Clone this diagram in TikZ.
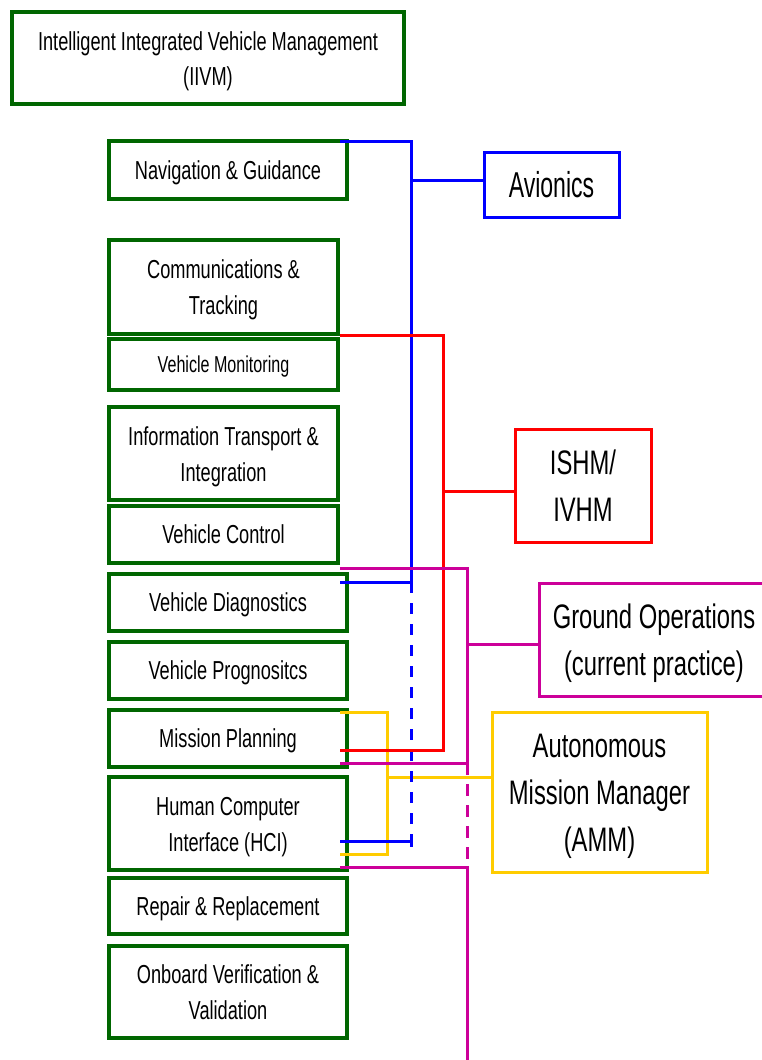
\documentclass[tikz,border=0pt]{standalone}
\usepackage{fontspec}
\setmainfont{Liberation Sans}[FakeStretch=0.70]
\newfontfamily\avfont{Liberation Sans}[FakeStretch=0.64]
\definecolor{gr}{RGB}{0,102,0}
\definecolor{bl}{RGB}{0,0,255}
\definecolor{rd}{RGB}{255,0,0}
\definecolor{mg}{RGB}{204,0,153}
\definecolor{ye}{RGB}{255,204,0}
\newcommand\mybox[7]{\node[#1, minimum width={#4-#2}, minimum height={#5-#3}] (#6) at ({(#2+#4)/2},{(#3+#5)/2}) {#7};}
\begin{document}
\begin{tikzpicture}[x=1pt,y=-1pt,
  gbox/.style={draw=gr, line width=4pt, inner sep=0pt, align=center, font=\fontsize{26}{36}\selectfont},
  gone/.style={gbox, text height=18.6pt, text depth=-3pt},
  gtwo/.style={gbox, text height=55pt, text depth=-3pt},
  sbox/.style={gbox, font=\fontsize{23}{30}\selectfont, text height=16.5pt, text depth=-8pt},
  rbox/.style={line width=3pt, inner sep=0pt, align=center, font=\fontsize{34}{47}\selectfont},
  conn/.style={line width=3pt},
  dsh/.style={dash pattern=on 11pt off 10pt}]
\useasboundingbox (0,0) rectangle (762,1060);
\clip (0,0) rectangle (762,1060);
\fill[white] (0,0) rectangle (762,1060);
% left column
\mybox{gbox,font=\fontsize{26}{35}\selectfont,text height=54pt,text depth=-9pt}{12}{12}{404}{104}{iivm}{Intelligent Integrated Vehicle Management\\(IIVM)}
\mybox{gone}{109}{141}{347}{199}{nav}{Navigation \& Guidance}
\mybox{gtwo}{109}{240}{338}{334}{comm}{Communications \&\\Tracking}
\mybox{sbox}{109}{339}{338}{390}{vm}{Vehicle Monitoring}
\mybox{gtwo}{109}{407}{338}{500}{iti}{Information Transport \&\\Integration}
\mybox{gone}{109}{506}{338}{563}{vc}{Vehicle Control}
\mybox{gone}{109}{574}{347}{631}{vd}{Vehicle Diagnostics}
\mybox{gone}{109}{642}{347}{699}{vp}{Vehicle Prognositcs}
\mybox{gone}{109}{710}{347}{767}{mp}{Mission Planning}
\mybox{gtwo}{109}{777}{347}{870}{hci}{Human Computer\\Interface (HCI)}
\mybox{gone}{109}{878}{347}{934}{rr}{Repair \& Replacement}
\mybox{gtwo,text depth=-6pt}{109}{946}{347}{1038}{ovv}{Onboard Verification \&\\Validation}
% right column
\mybox{rbox,draw=bl,font=\avfont\fontsize{36}{47}\selectfont,text height=25.8pt,text depth=-1pt}{484}{152}{619}{217}{avio}{Avionics}
\mybox{rbox,draw=rd,text height=71.3pt,text depth=-10pt}{515}{429}{651}{542}{ishm}{ISHM/\\IVHM}
\mybox{rbox,draw=mg,text height=71.3pt,text depth=0pt}{539}{583}{769}{696}{gops}{Ground Operations\\(current practice)}
\mybox{rbox,draw=ye,text height=118.3pt,text depth=-8pt}{492}{712}{707}{872}{amm}{Autonomous\\Mission Manager\\(AMM)}
% connection points
\coordinate (navP) at (340,141);
\coordinate (vdP) at (340,582);
\coordinate (hciB) at (340,841);
\coordinate (commP) at (340,335);
\coordinate (mpR) at (340,750);
\coordinate (vcP) at (340,568);
\coordinate (mpM) at (340,763);
\coordinate (hciM) at (340,867);
\coordinate (mpY) at (340,712);
\coordinate (hciY) at (340,854);
\coordinate (bottomM) at (467,1060);
% yellow (AMM)
\draw[conn,ye] (mpY) -- (387,712) -- (387,854) -- (hciY);
\draw[conn,ye] (387,777) -- (amm.west |- 387,777);
% blue (Avionics)
\draw[conn,bl] (navP) -- (411,141) -- (411,582) -- (vdP);
\draw[conn,bl] (411,180) -- (avio.west |- 411,180);
\draw[conn,bl,dsh] (411,582) -- (411,841);
\draw[conn,bl] (hciB) -- (411,841);
\draw[conn,bl] (411,835) -- (411,847);
% red (ISHM)
\draw[conn,rd] (commP) -- (443,335) -- (443,750) -- (mpR);
\draw[conn,rd] (443,491) -- (ishm.west |- 443,491);
% magenta (Ground operations)
\draw[conn,mg] (vcP) -- (467,568) -- (467,763) -- (mpM);
\draw[conn,mg] (467,644) -- (gops.west |- 467,644);
\draw[conn,mg,dash pattern=on 12pt off 9pt] (467,763) -- (467,867);
\draw[conn,mg] (hciM) -- (467,867) -- (bottomM);
\end{tikzpicture}
\end{document}
